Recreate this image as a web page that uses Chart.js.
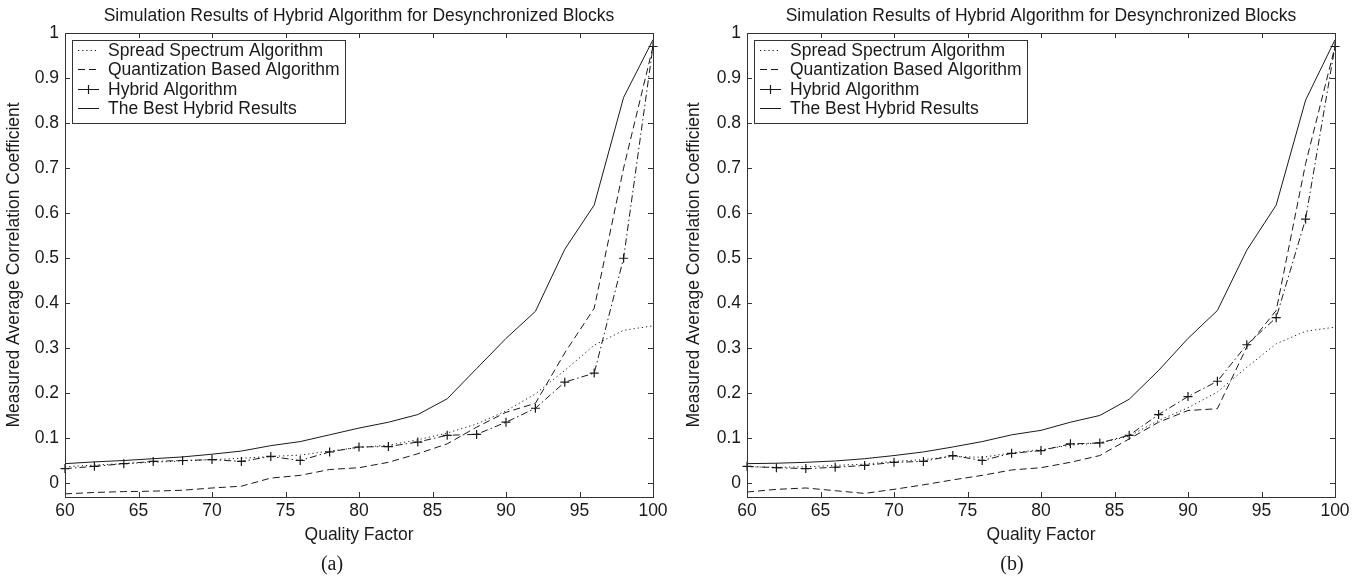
<!DOCTYPE html>
<html>
<head>
<meta charset="utf-8">
<script src="https://cdn.jsdelivr.net/npm/chart.js@4.4.1/dist/chart.umd.min.js"></script>
<style>
  html, body { margin: 0; padding: 0; background: #fff; }
  body { width: 1359px; height: 578px; position: relative; overflow: hidden; }
  .panel { position: absolute; top: 0; height: 578px; }
  #pa { left: 0; width: 680px; }
  #pb { left: 680px; width: 679px; }
</style>
</head>
<body>
<div class="panel" id="pa"><canvas id="ca" width="680" height="578"></canvas></div>
<div class="panel" id="pb"><canvas id="cb" width="679" height="578"></canvas></div>
<script>
// ---- Data ----
const qualityFactor = [60, 62, 64, 66, 68, 70, 72, 74, 76, 78, 80, 82, 84, 86, 88, 90, 92, 94, 96, 98, 100];

const spreadA = [0.037, 0.041, 0.044, 0.047, 0.050, 0.053, 0.056, 0.060, 0.063, 0.072, 0.080, 0.085, 0.097, 0.112, 0.132, 0.161, 0.199, 0.251, 0.307, 0.340, 0.350];
const quantA  = [-0.023, -0.020, -0.018, -0.017, -0.015, -0.010, -0.006, 0.012, 0.018, 0.031, 0.035, 0.047, 0.066, 0.088, 0.125, 0.158, 0.178, 0.290, 0.389, 0.700, 0.970];
const hybridA = [0.033, 0.038, 0.044, 0.049, 0.051, 0.053, 0.049, 0.060, 0.051, 0.070, 0.081, 0.082, 0.092, 0.107, 0.109, 0.136, 0.167, 0.225, 0.245, 0.500, 0.970];
const bestA   = [0.044, 0.048, 0.051, 0.055, 0.059, 0.065, 0.072, 0.084, 0.093, 0.108, 0.123, 0.136, 0.153, 0.188, 0.255, 0.322, 0.382, 0.520, 0.618, 0.857, 0.985];

const spreadB = [0.037, 0.036, 0.037, 0.040, 0.043, 0.049, 0.053, 0.060, 0.058, 0.068, 0.075, 0.085, 0.090, 0.105, 0.140, 0.168, 0.203, 0.258, 0.310, 0.338, 0.347];
const quantB  = [-0.019, -0.013, -0.010, -0.016, -0.022, -0.013, -0.003, 0.008, 0.018, 0.030, 0.035, 0.047, 0.062, 0.099, 0.136, 0.162, 0.166, 0.303, 0.384, 0.710, 0.970];
const hybridB = [0.038, 0.035, 0.033, 0.036, 0.040, 0.047, 0.049, 0.062, 0.051, 0.067, 0.073, 0.088, 0.090, 0.107, 0.153, 0.193, 0.227, 0.308, 0.368, 0.587, 0.970];
const bestB   = [0.044, 0.045, 0.047, 0.050, 0.055, 0.062, 0.070, 0.081, 0.093, 0.108, 0.118, 0.136, 0.151, 0.187, 0.251, 0.322, 0.384, 0.518, 0.618, 0.851, 0.985];

const xTickValues = [60, 65, 70, 75, 80, 85, 90, 95, 100];
const yTickValues = [0, 0.1, 0.2, 0.3, 0.4, 0.5, 0.6, 0.7, 0.8, 0.9, 1];

const seriesLabels = ['Spread Spectrum Algorithm', 'Quantization Based Algorithm', 'Hybrid Algorithm', 'The Best Hybrid Results'];
const chartTitle = 'Simulation Results of Hybrid Algorithm for Desynchronized Blocks';
const xTitle = 'Quality Factor';
const yTitle = 'Measured Average Correlation Coefficient';

// ---- Styling ----
const SANS = "'Liberation Sans', Arial, Helvetica, sans-serif";
const SERIF = "'Liberation Serif', 'Times New Roman', serif";
const FS = 17.5;
const INK = '#1a1a1a';
const AXIS = '#333';
Chart.defaults.font.family = SANS;
Chart.defaults.font.size = FS;
Chart.defaults.color = INK;

function pts(ys) { return qualityFactor.map((x, i) => ({ x: x, y: ys[i] })); }

function makeDatasets(s, q, h, b) {
  const common = { borderColor: INK, borderWidth: 1, fill: false, tension: 0, clip: false, pointRadius: 0 };
  return [
    Object.assign({}, common, { label: seriesLabels[0], data: pts(s), borderDash: [1.2, 3] }),
    Object.assign({}, common, { label: seriesLabels[1], data: pts(q), borderDash: [7, 4] }),
    Object.assign({}, common, { label: seriesLabels[2], data: pts(h), borderDash: [7, 3, 1.5, 3],
      pointRadius: 4.5, pointStyle: 'cross', pointBorderColor: INK, pointBorderWidth: 1.2, pointHoverRadius: 4.5 }),
    Object.assign({}, common, { label: seriesLabels[3], data: pts(b) })
  ];
}

const framePlugin = {
  id: 'frame',
  afterDraw(chart) {
    const { ctx, chartArea: a, scales } = chart;
    const o = chart.options.plugins.frame;
    ctx.save();
    // box
    ctx.strokeStyle = AXIS; ctx.lineWidth = 1; ctx.setLineDash([]);
    ctx.strokeRect(Math.round(a.left) + 0.5, Math.round(a.top) + 0.5, Math.round(a.right - a.left), Math.round(a.bottom - a.top));
    // inward ticks
    const tl = 5;
    ctx.beginPath();
    scales.x.ticks.forEach(t => {
      const px = Math.round(scales.x.getPixelForValue(t.value)) + 0.5;
      ctx.moveTo(px, a.bottom); ctx.lineTo(px, a.bottom - tl);
      ctx.moveTo(px, a.top); ctx.lineTo(px, a.top + tl);
    });
    scales.y.ticks.forEach(t => {
      const py = Math.round(scales.y.getPixelForValue(t.value)) + 0.5;
      ctx.moveTo(a.left, py); ctx.lineTo(a.left + tl, py);
      ctx.moveTo(a.right, py); ctx.lineTo(a.right - tl, py);
    });
    ctx.stroke();

    // title
    ctx.fillStyle = INK;
    ctx.font = FS + 'px ' + SANS;
    ctx.textAlign = 'center'; ctx.textBaseline = 'middle';
    ctx.fillText(chartTitle, (a.left + a.right) / 2, 16.5);
    // caption
    ctx.font = '20px ' + SERIF;
    ctx.fillText(o.caption, o.captionX, 565);

    // legend box
    const ds = chart.data.datasets;
    ctx.font = FS + 'px ' + SANS;
    const rowH = 19.3;
    let maxW = 0;
    ds.forEach(d => { maxW = Math.max(maxW, ctx.measureText(d.label).width); });
    const x0 = Math.round(a.left) + 7, y0 = Math.round(a.top) + 7;
    const w = Math.round(36 + maxW + 5), h = Math.round(rowH * ds.length + 6);
    ctx.fillStyle = '#fff';
    ctx.fillRect(x0, y0, w, h);
    ctx.strokeStyle = AXIS;
    ctx.strokeRect(x0 + 0.5, y0 + 0.5, w, h);
    ds.forEach((d, i) => {
      const cy = Math.round(y0 + 10 + i * rowH) + 0.5;
      ctx.strokeStyle = INK; ctx.lineWidth = 1;
      ctx.setLineDash(d.borderDash || []);
      ctx.beginPath(); ctx.moveTo(x0 + 6, cy); ctx.lineTo(x0 + 27, cy); ctx.stroke();
      ctx.setLineDash([]);
      if (d.pointRadius > 0) {
        const cx = x0 + 16.5, r = d.pointRadius;
        ctx.lineWidth = 1.2;
        ctx.beginPath();
        ctx.moveTo(cx - r, cy); ctx.lineTo(cx + r, cy);
        ctx.moveTo(cx, cy - r); ctx.lineTo(cx, cy + r);
        ctx.stroke();
      }
      ctx.fillStyle = INK; ctx.textAlign = 'left'; ctx.textBaseline = 'middle';
      ctx.fillText(d.label, x0 + 36, cy + 0.5);
    });
    ctx.restore();
  }
};

function makeChart(id, datasets, yAxisWidth, rightPad, caption, captionX) {
  return new Chart(document.getElementById(id), {
    type: 'line',
    data: { datasets: datasets },
    plugins: [framePlugin],
    options: {
      responsive: false,
      animation: false,
      devicePixelRatio: 1,
      layout: { padding: { top: 33, bottom: 25, left: 0, right: rightPad } },
      plugins: {
        legend: { display: false },
        title: { display: false },
        tooltip: { enabled: false },
        frame: { caption: caption, captionX: captionX }
      },
      scales: {
        x: {
          type: 'linear', min: 60, max: 100,
          afterBuildTicks: s => { s.ticks = xTickValues.map(v => ({ value: v })); },
          afterFit: s => { s.height = 56; },
          grid: { display: false, drawTicks: false },
          border: { display: false },
          ticks: { padding: 4, color: INK, font: { size: FS }, maxRotation: 0, callback: v => String(v) },
          title: { display: true, text: xTitle, color: INK, font: { size: FS }, padding: { top: 0, bottom: 7 } }
        },
        y: {
          type: 'linear', min: -0.03, max: 1,
          afterBuildTicks: s => { s.ticks = yTickValues.map(v => ({ value: v })); },
          afterFit: s => { s.width = yAxisWidth; },
          grid: { display: false, drawTicks: false },
          border: { display: false },
          ticks: { padding: 6, color: INK, font: { size: FS }, callback: v => String(Number(v.toFixed(2))) },
          title: { display: true, text: yTitle, color: INK, font: { size: FS }, padding: { top: 4, bottom: 0 } }
        }
      }
    }
  });
}

makeChart('ca', makeDatasets(spreadA, quantA, hybridA, bestA), 65, 27, '(a)', 332);
makeChart('cb', makeDatasets(spreadB, quantB, hybridB, bestB), 67, 24, '(b)', 332);
</script>
</body>
</html>
